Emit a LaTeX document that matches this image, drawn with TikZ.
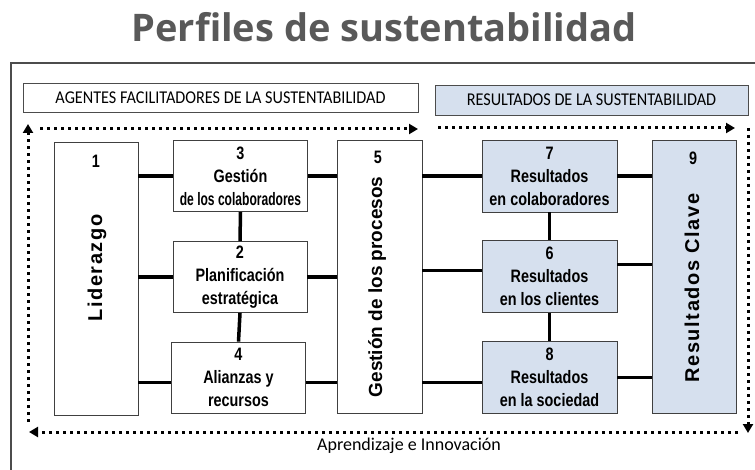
\documentclass[tikz,border=0pt]{standalone}
\usepackage{fontspec}
\setmainfont{Liberation Sans}
\newfontfamily\titlefont{Open Sans}
\newfontfamily\headfont[FakeStretch=0.9]{Carlito}
\newfontfamily\footfont{Carlito}
\newfontfamily\narrowfont[FakeStretch=0.8]{Liberation Sans}
\newfontfamily\narrowerfont[FakeStretch=0.67]{Liberation Sans}
\newfontfamily\widefont[LetterSpace=8]{Liberation Sans}
\usetikzlibrary{arrows.meta}
\definecolor{resblue}{RGB}{214,224,238}
\definecolor{titlegray}{RGB}{89,89,89}

\begin{document}
\begin{tikzpicture}[x=1pt,y=-1pt,
    box/.style={draw=black!75, line width=0.8pt, fill=white, inner sep=0pt, align=center,
        font=\narrowfont\bfseries\fontsize{18}{23}\selectfont},
    smallbox/.style={box, minimum width=134pt, minimum height=71pt},
    tallbox/.style={box, minimum width=84pt, minimum height=273pt},
    res/.style={fill=resblue},
    num/.style={font=\narrowfont\bfseries\fontsize{18}{20}\selectfont},
    vtext/.style={rotate=90, font=\widefont\bfseries\fontsize{20}{22}\selectfont},
    headbox/.style={draw=black!70, line width=0.8pt, inner sep=0pt,
        font=\headfont\fontsize{18}{20}\selectfont},
    bar/.style={line width=3.5pt},
    cyclearrow/.style={line width=3pt, dash pattern=on 3pt off 4pt,
        -{Triangle[length=9pt,width=10pt]}},
]
    \useasboundingbox (0,0) rectangle (755,470);

    % Title
    \node[anchor=base, text=titlegray, font=\titlefont\bfseries\fontsize{38}{40}\selectfont]
        (title) at (384,42) {Perfiles de sustentabilidad};

    % Frame
    \draw[black!70, line width=1.5pt] (755,63) -- (11,63) -- (11,470);

    % Header boxes
    \node[headbox, fill=white, minimum width=395pt, minimum height=29pt]
        (agentes) at (220.5,97.5) {AGENTES FACILITADORES DE LA SUSTENTABILIDAD};
    \node[headbox, fill=resblue, minimum width=313pt, minimum height=30pt]
        (resultados) at (591.5,100) {RESULTADOS DE LA SUSTENTABILIDAD};

    % Learning loop
    \coordinate (tl1) at (40,129);
    \coordinate (tl2) at (418,129);
    \coordinate (tr1) at (438,128);
    \coordinate (tr2) at (735,128);
    \coordinate (rv1) at (748,128);
    \coordinate (rv2) at (748,433);
    \coordinate (bt1) at (738,432);
    \coordinate (bt2) at (29,432);
    \coordinate (lv1) at (28,422);
    \coordinate (lv2) at (28,124);
    \draw[cyclearrow] (tl1) -- (tl2);
    \draw[cyclearrow] (tr1) -- (tr2);
    \draw[cyclearrow] (rv1) -- (rv2);
    \draw[cyclearrow] (bt1) -- (bt2);
    \draw[cyclearrow] (lv1) -- (lv2);
    \node[font=\footfont\fontsize{18}{20}\selectfont] (aprend) at (409,446) {Aprendizaje e Innovación};

    % Enablers
    \node[tallbox] (lid) at (96,279) {};
    \node[num] (n1) at (96,161) {1};
    \node[vtext] (tlid) at (97,268) {Liderazgo};

    \node[smallbox] (b3) at (240.5,176) {3\\Gestión\\{\narrowerfont de los colaboradores}};
    \node[smallbox] (b2) at (240,277) {2\\Planificación\\estratégica};
    \node[smallbox] (b4) at (238.5,377.5) {4\\Alianzas y\\recursos};

    \node[tallbox, minimum width=85pt] (proc) at (379.5,276.5) {};
    \node[num] (n5) at (378,157) {5};
    \node[vtext, font=\bfseries\fontsize{19}{21}\selectfont] (tproc) at (377,287) {Gestión de los procesos};

    % Results
    \node[smallbox, res, minimum width=135pt, minimum height=72pt] (b7) at (549.5,176) {7\\Resultados\\en colaboradores};
    \node[smallbox, res, minimum width=135pt, minimum height=72pt] (b6) at (549.5,276.5) {6\\Resultados\\en los clientes};
    \node[smallbox, res, minimum width=135pt, minimum height=72pt] (b8) at (549.5,377.5) {8\\Resultados\\en la sociedad};

    \node[tallbox, res] (clave) at (694,276.5) {};
    \node[num] (n9) at (693,158) {9};
    \node[vtext] (tclave) at (692,288) {Resultados Clave};

    % Connectors
    \draw[bar] (lid.east |- b3.west) -- (b3.west);
    \draw[bar] (lid.east |- b2.west) -- (b2.west);
    \draw[bar] ([yshift=-5pt]lid.east |- b4.west) -- ([yshift=-5pt]b4.west);
    \draw[bar] (b3.east) -- (b3.east -| proc.west);
    \draw[bar] (b2.east) -- (b2.east -| proc.west);
    \draw[bar] ([yshift=-5pt]b4.east) -- ([yshift=-5pt]b4.east -| proc.west);
    \draw[bar] (b3.south) -- (b2.north);
    \draw[bar] (b2.south) -- (b4.north);

    \draw[bar] (proc.east |- b7.west) -- (b7.west);
    \draw[bar] ([yshift=6pt]proc.east |- b6.west) -- ([yshift=6pt]b6.west);
    \draw[bar] ([yshift=-5pt]proc.east |- b8.west) -- ([yshift=-5pt]b8.west);
    \draw[bar] (b7.east) -- (b7.east -| clave.west);
    \draw[bar] ([yshift=12pt]b6.east) -- ([yshift=12pt]b6.east -| clave.west);
    \draw[bar] (b8.east) -- (b8.east -| clave.west);
    \draw[bar] (b7.south) -- (b6.north);
    \draw[bar] (b6.south) -- (b8.north);
\end{tikzpicture}
\end{document}
